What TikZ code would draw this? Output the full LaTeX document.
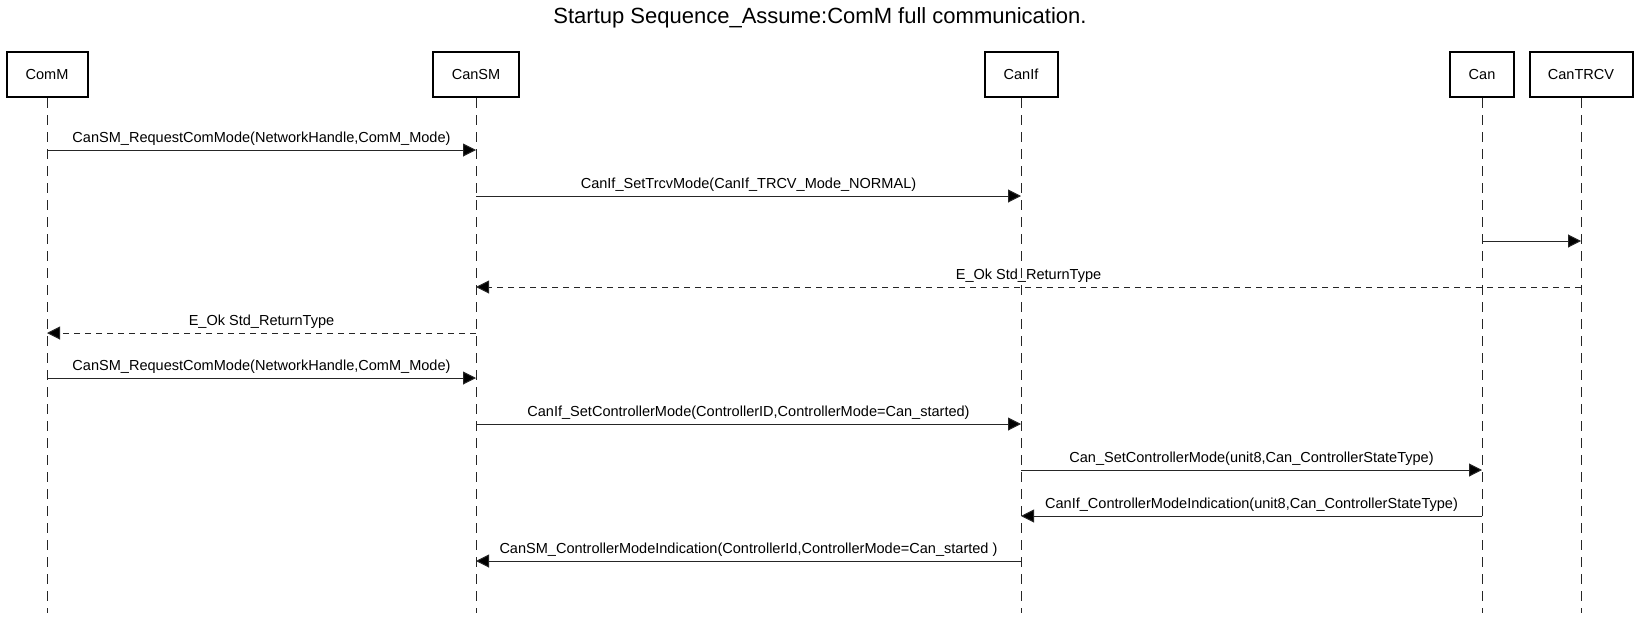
\documentclass[tikz,border=0pt]{standalone}
\usepackage{fontspec}
\setmainfont{Liberation Sans}
\usetikzlibrary{arrows.meta,positioning}
\tikzset{
  lifebox/.style={draw=black, line width=1.5pt, minimum height=33.75pt, inner sep=0pt, font=\fontsize{10.9}{13}\selectfont},
  lifeline/.style={draw=black!85, line width=0.75pt, dash pattern=on 7.5pt off 5.25pt},
  msg/.style={draw=black!85, line width=0.75pt, -{Triangle[length=9.75pt,width=9.75pt,fill=black]}},
  reply/.style={msg, dash pattern=on 4.5pt off 3.75pt},
  msglabel/.style={font=\fontsize{10.9}{13}\selectfont, inner sep=1pt, above=2pt}
}

\begin{document}
\begin{tikzpicture}[x=0.75pt,y=-0.75pt]
    \useasboundingbox (0,0) rectangle (1640,618);

    \node (title) at (820,18) {\fontsize{16.5}{20}\selectfont Startup Sequence\_Assume:ComM full communication.};

    % lifeline heads and their dashed lines
    \foreach \n/\x/\w/\t in {comm/47/60.75pt/ComM, cansm/476/64.5pt/CanSM,
        canif/1021/54.75pt/CanIf, can/1482/48pt/Can, cantrcv/1581/77.25pt/CanTRCV} {
        \node[lifebox, minimum width=\w] (\n) at (\x,74.5) {\t};
        \coordinate (\n-end) at (\x,613);
        \draw[lifeline] (\n.south) -- (\n-end);
    }

    % messages
    \foreach \y/\a/\b/\s/\t in {
        150/comm/cansm/msg/{CanSM\_RequestComMode(NetworkHandle,ComM\_Mode)},
        196/cansm/canif/msg/{CanIf\_SetTrcvMode(CanIf\_TRCV\_Mode\_NORMAL)},
        287/cantrcv/cansm/reply/{E\_Ok Std\_ReturnType},
        333/cansm/comm/reply/{E\_Ok Std\_ReturnType},
        378/comm/cansm/msg/{CanSM\_RequestComMode(NetworkHandle,ComM\_Mode)},
        424/cansm/canif/msg/{CanIf\_SetControllerMode(ControllerID,ControllerMode=Can\_started)},
        470/canif/can/msg/{Can\_SetControllerMode(unit8,Can\_ControllerStateType)},
        516/can/canif/msg/{CanIf\_ControllerModeIndication(unit8,Can\_ControllerStateType)},
        561/canif/cansm/msg/{CanSM\_ControllerModeIndication(ControllerId,ControllerMode=Can\_started )}} {
        \draw[\s] (\a |- 0,\y) -- (\b |- 0,\y) node[midway,msglabel] {\t};
    }
    \draw[msg] (can |- 0,241) -- (cantrcv |- 0,241);
\end{tikzpicture}
\end{document}
